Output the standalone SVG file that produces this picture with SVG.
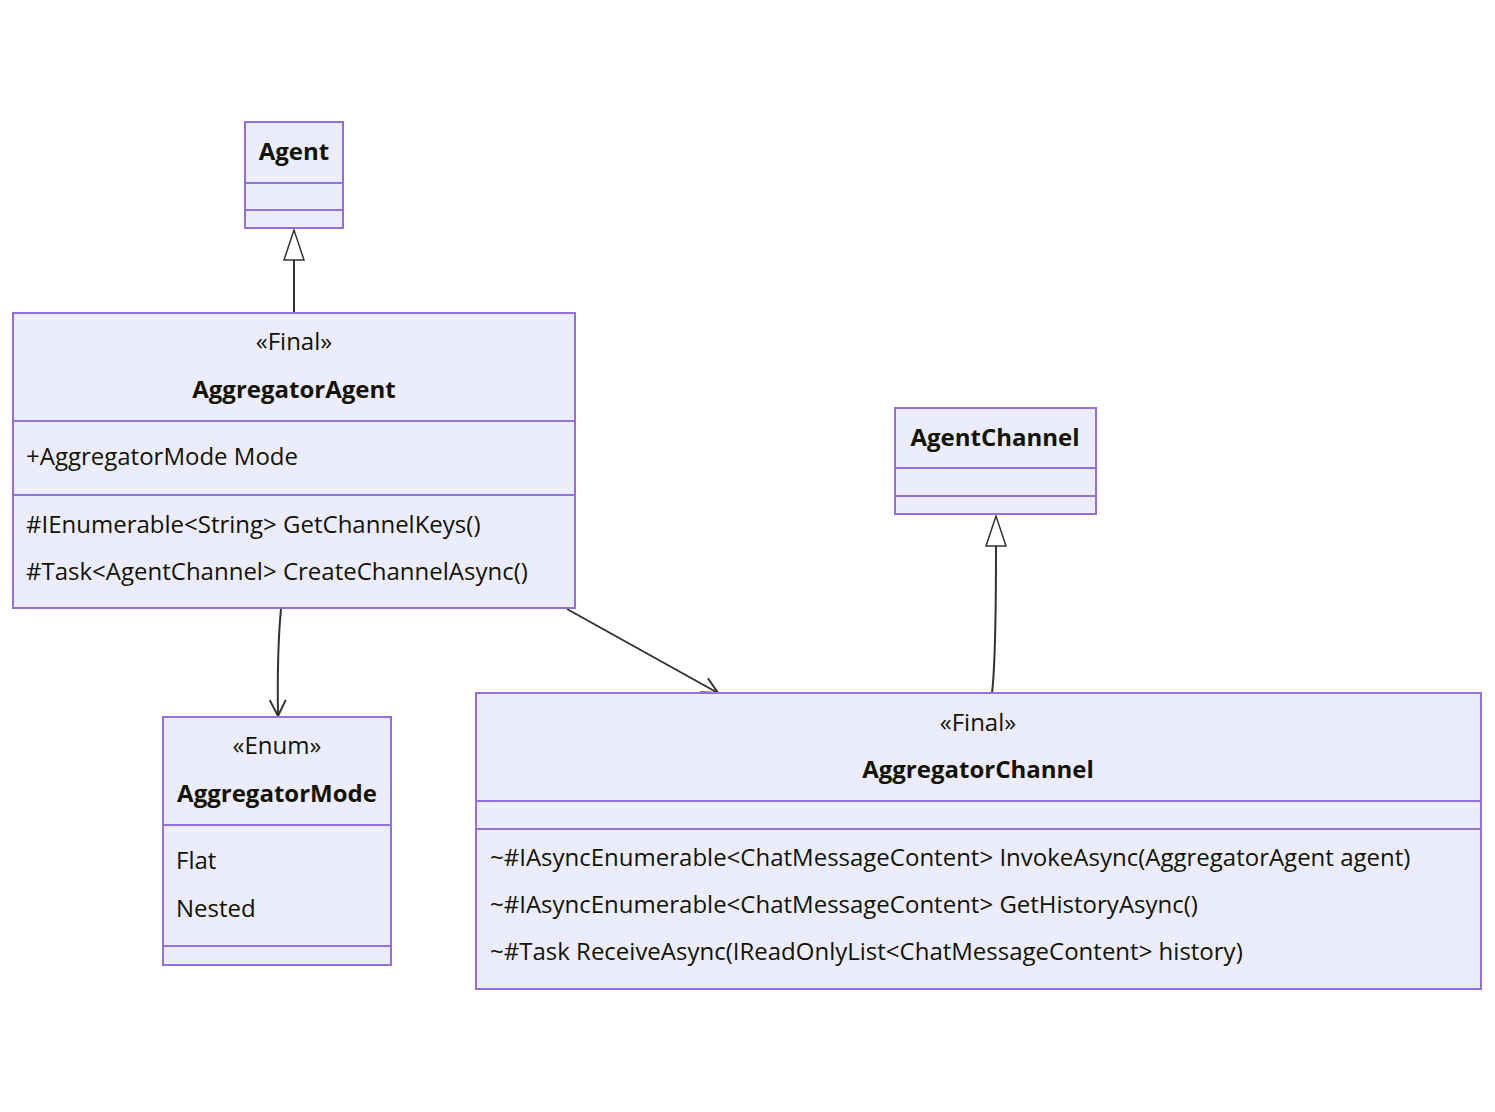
<svg xmlns="http://www.w3.org/2000/svg" width="1495" height="1112" viewBox="0 0 1495 1112">
<style>
.box{fill:#ECECFF;stroke:#9370DB;stroke-width:2}
.dv{stroke:#9370DB;stroke-width:2}
text{font-family:"Open Sans","DejaVu Sans",sans-serif;font-size:24px;fill:#131300}
.b{font-weight:bold}
.c{text-anchor:middle}
.ln{fill:none;stroke:#333;stroke-width:2}
</style>
<defs>
<marker id="tri" viewBox="0 0 20 30" refX="0" refY="15" markerWidth="20" markerHeight="30" markerUnits="userSpaceOnUse" orient="auto"><path d="M0,1 L0,29 L19,15 Z" fill="#fff" stroke="#333" stroke-width="1.5" transform="rotate(0)"/></marker>
<marker id="arr" viewBox="0 0 20 20" refX="18" refY="10" markerWidth="20" markerHeight="20" markerUnits="userSpaceOnUse" orient="auto"><path d="M2,2 L18,10 L2,18" fill="none" stroke="#333" stroke-width="2"/></marker>
</defs>
<rect width="1495" height="1112" fill="#fff"/>
<g id="connectors">
<path class="ln" d="M294,313 L294,260"/>
<path d="M294,230 L284,260 L304,260 Z" fill="#fff" stroke="#333" stroke-width="1.5"/>
<path class="ln" d="M992,693 Q996,660 996,546"/>
<path d="M996,516 L986,546 L1006,546 Z" fill="#fff" stroke="#333" stroke-width="1.5"/>
<path class="ln" d="M281,609 Q277,650 278,716" marker-end="url(#arr)"/>
<path class="ln" d="M567,609 L718,693" marker-end="url(#arr)"/>
</g>
<g id="Agent">
<rect class="box" x="245" y="122" width="98" height="106"/>
<line class="dv" x1="245" y1="183" x2="343" y2="183"/><line class="dv" x1="245" y1="210" x2="343" y2="210"/>
<text class="b c" x="294" y="160">Agent</text>
</g>
<g id="AggregatorAgent">
<rect class="box" x="13" y="313" width="562" height="295"/>
<line class="dv" x1="13" y1="421" x2="575" y2="421"/><line class="dv" x1="13" y1="495" x2="575" y2="495"/>
<text class="c" x="294" y="350">«Final»</text>
<text class="b c" x="294" y="398">AggregatorAgent</text>
<text x="26" y="465">+AggregatorMode Mode</text>
<text x="26" y="533">#IEnumerable&lt;String&gt; GetChannelKeys()</text>
<text x="26" y="580">#Task&lt;AgentChannel&gt; CreateChannelAsync()</text>
</g>
<g id="AgentChannel">
<rect class="box" x="895" y="408" width="201" height="106"/>
<line class="dv" x1="895" y1="468" x2="1096" y2="468"/><line class="dv" x1="895" y1="496" x2="1096" y2="496"/>
<text class="b c" x="995" y="446">AgentChannel</text>
</g>
<g id="AggregatorMode">
<rect class="box" x="163" y="717" width="228" height="248"/>
<line class="dv" x1="163" y1="825" x2="391" y2="825"/><line class="dv" x1="163" y1="946" x2="391" y2="946"/>
<text class="c" x="277" y="754">«Enum»</text>
<text class="b c" x="277" y="802">AggregatorMode</text>
<text x="176" y="869">Flat</text>
<text x="176" y="917">Nested</text>
</g>
<g id="AggregatorChannel">
<rect class="box" x="476" y="693" width="1005" height="296"/>
<line class="dv" x1="476" y1="801" x2="1481" y2="801"/><line class="dv" x1="476" y1="829" x2="1481" y2="829"/>
<text class="c" x="978" y="731">«Final»</text>
<text class="b c" x="978" y="778">AggregatorChannel</text>
<text x="490" y="866">~#IAsyncEnumerable&lt;ChatMessageContent&gt; InvokeAsync(AggregatorAgent agent)</text>
<text x="490" y="913">~#IAsyncEnumerable&lt;ChatMessageContent&gt; GetHistoryAsync()</text>
<text x="490" y="960">~#Task ReceiveAsync(IReadOnlyList&lt;ChatMessageContent&gt; history)</text>
</g>
</svg>
